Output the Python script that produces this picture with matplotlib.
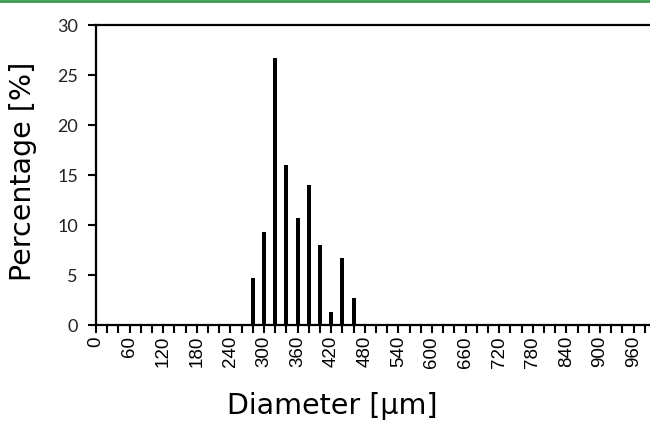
import matplotlib
matplotlib.use("Agg")
import matplotlib.pyplot as plt
from matplotlib.lines import Line2D
import numpy as np

# size classes (µm) and share of particles (%)
diameters = [280, 300, 320, 340, 360, 380, 400, 420, 440, 460]
percentages = [4.67, 9.33, 26.67, 16.0, 10.67, 14.0, 8.0, 1.33, 6.67, 2.67]
x_minor = np.arange(0, 1000, 20)
x_labels = np.arange(0, 1000, 60)
y_ticks = [0, 5, 10, 15, 20, 25, 30]

fig = plt.figure(figsize=(6.5, 4.25), dpi=100)
ax = fig.add_axes([96 / 650, 100 / 425, 554 / 650, 300 / 425])

ax.bar(diameters, percentages, width=7, color="black", zorder=3)

ax.set_xlim(0, 989.3)
ax.set_ylim(0, 30)

ax.set_xticks(x_labels)
ax.set_xticklabels([str(v) for v in x_labels], rotation=90,
                   family="Liberation Sans", fontsize=13.5)
ax.set_xticks(x_minor, minor=True)
ax.set_yticks(y_ticks)
ax.set_yticklabels([str(v) for v in y_ticks], family="Lato", fontsize=13,
                   color="#222222")

ax.tick_params(axis="x", which="both", direction="out", length=6, width=1.5,
               pad=2)
ax.tick_params(axis="y", direction="out", length=6, width=1.5, pad=7)

for side in ["left", "bottom", "top"]:
    ax.spines[side].set_linewidth(1.6)
ax.spines["right"].set_visible(False)

ax.set_xlabel("Diameter [\u03bcm]", family="DejaVu Sans", fontsize=20.5,
              va="center")
ax.set_ylabel("Percentage [%]", family="DejaVu Sans", fontsize=20.5,
              va="center")
ax.xaxis.set_label_coords(0.427, -0.27)
ax.yaxis.set_label_coords(-0.132, 0.512)

# thin green rule along the top edge
fig.add_artist(Line2D([0, 1], [1 - 1 / 425, 1 - 1 / 425],
                      transform=fig.transFigure, color="#3c9c4c", lw=2))

fig.savefig("out.png", dpi=100)
